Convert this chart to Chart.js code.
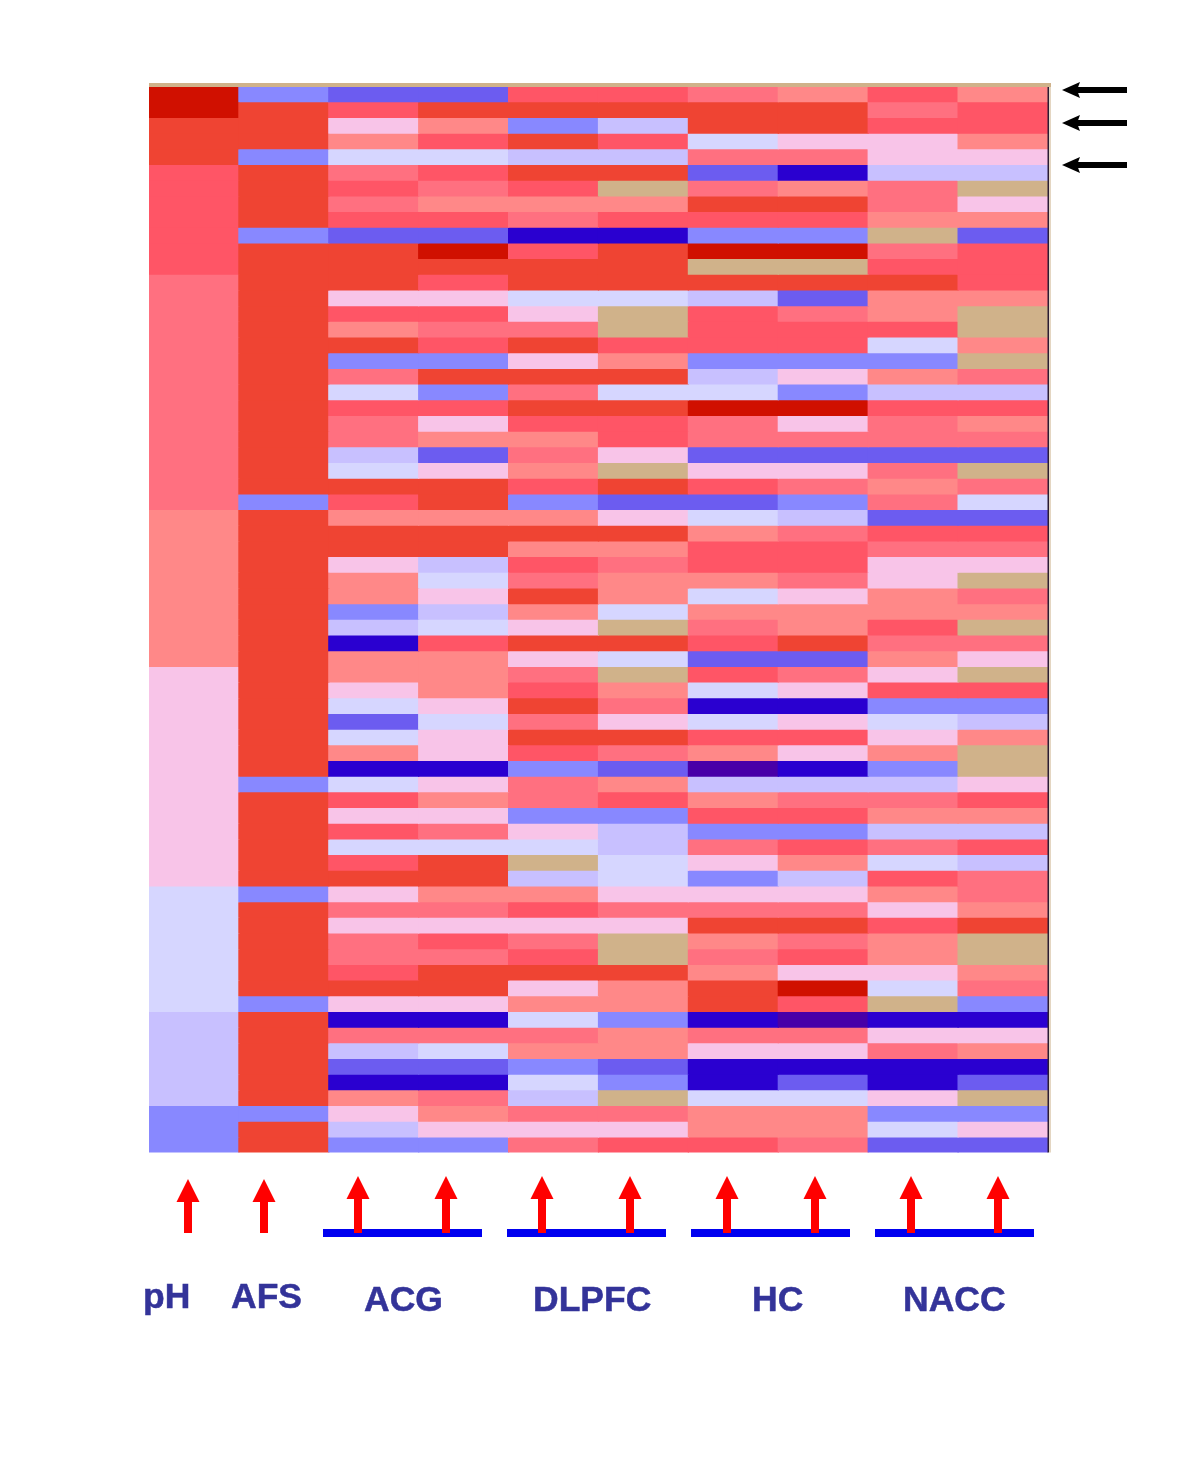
<!DOCTYPE html>
<html lang="en">
<head>
  <meta charset="UTF-8">
  <title>Heatmap pH AFS ACG DLPFC HC NACC</title>
  <script src="https://cdn.jsdelivr.net/npm/chart.js"></script>
  <style>
    body { margin: 0; padding: 0; background: #fff; }
    #wrap { width: 1200px; height: 1480px; }
  </style>
</head>
<body>
  <div id="wrap"><canvas id="heatmap" width="1200" height="1480"></canvas></div>

  <script>
    const columns = ['pH', 'AFS', 'ACG 1', 'ACG 2', 'DLPFC 1', 'DLPFC 2', 'HC 1', 'HC 2', 'NACC 1', 'NACC 2'];

    // one string per row, one letter per column (see levelColors)
    const rows = [
      'DBMMCCPSCS', 'DRCRRRRRPC', 'RRLSBURRCC', 'RRSCRCVLLS', 'RBVVUUPPLL',
      'CRPCRRMNUU', 'CRCPCXPSPX', 'CRPSSSRRPL', 'CRCCPCCCSS', 'CBMMNNBBXM',
      'CRRDCRDDPC', 'CRRRRRXXCC', 'PRRCRRRRRC', 'PRLLVVUMSS', 'PRCCLXCPSX',
      'PRSPPXCCCX', 'PRRCRCCCVS', 'PRBBLSBBBX', 'PRPRRRULSP', 'PRVBPVVBUU',
      'PRCCRRDDCC', 'PRPLCCPLPS', 'PRPSSCPPPP', 'PRUMPLMMMM', 'PRVLSXLLPX',
      'PRRRCRCPSP', 'PBCRBMMBPV', 'SRSSSLVUMM', 'SRRRRRSPCC', 'SRRRSSCCPP',
      'SRLUCPCCLL', 'SRSVPSSPLX', 'SRSLRSVLSP', 'SRBUSVSSSS', 'SRUVLXPSCX',
      'SRNCRRCRPP', 'SRSSLVMMSL', 'LRSSPXCPLX', 'LRLSCSVLCC', 'LRVLRPNNBB',
      'LRMVPLVLVU', 'LRVLRRCCLS', 'LRSLCPSLSX', 'LRNNBMONBX', 'LBVLPSUUUL',
      'LRCSPCSPPC', 'LRLLBBCCSS', 'LRCPLUBBUU', 'LRVVVUPCPC', 'LRCRXVLSVU',
      'LRRRUVBUCP', 'VBLSSLLLSP', 'VRPPCPPPLS', 'VRLLLLRRCR', 'VRPCPXSPSX',
      'VRPPCXPCSX', 'VRCRRRSLLS', 'VRRRLSRDVP', 'VBLLSSRCXB', 'URNNVBNONN',
      'URPPPSPPLL', 'URUVSSLLPS', 'URMMBMNNNN', 'URNNVBNMNM', 'URSPUXVVLX',
      'BBLSPPSSBB', 'BRULLLSSVL', 'BRBBPCCPMM'
    ];

    const levelColors = {
      D: '#d01000', R: '#ef4433', C: '#ff5566', P: '#ff7080', S: '#ff8888',
      L: '#f8c4e8', V: '#d6d6ff', U: '#c8c0ff', B: '#8888ff', M: '#6c5cf0',
      N: '#2a00d0', O: '#4800a8', X: '#d0b28a'
    };

    const groupLabels = [
      { text: 'pH', x: 143, y: 1308 },
      { text: 'AFS', x: 231, y: 1308 },
      { text: 'ACG', x: 364, y: 1311 },
      { text: 'DLPFC', x: 533, y: 1311 },
      { text: 'HC', x: 752, y: 1311 },
      { text: 'NACC', x: 903, y: 1311 }
    ];
    const groupBars = [323, 507, 691, 875];
    const redArrows = [
      [188, 1179], [264, 1179], [358, 1176], [446, 1176], [542, 1176],
      [630, 1176], [727, 1176], [815, 1176], [911, 1176], [998, 1176]
    ];
    const blackArrows = [90, 123, 165];

    // frame, arrows and labels around the heatmap
    const decorations = {
      id: 'decorations',
      afterDraw(chart) {
        const ctx = chart.ctx;
        const area = chart.chartArea;
        ctx.save();

        ctx.fillStyle = '#d0b28a';
        ctx.fillRect(area.left, 83, area.right - area.left + 3, 4);
        ctx.fillStyle = '#e4d6c2';
        ctx.fillRect(area.right + 1, 87, 2, area.bottom - 87);
        ctx.fillStyle = '#2c1c34';
        ctx.fillRect(area.right - 0.5, 87, 1.5, area.bottom - 87);

        ctx.fillStyle = '#0000f0';
        groupBars.forEach(x => ctx.fillRect(x, 1229, 159, 8));

        ctx.fillStyle = '#ff0000';
        redArrows.forEach(([x, tip]) => {
          ctx.fillRect(x - 4, tip + 22, 8, 1233 - tip - 22);
          ctx.beginPath();
          ctx.moveTo(x, tip);
          ctx.lineTo(x + 11.5, tip + 23);
          ctx.lineTo(x - 11.5, tip + 23);
          ctx.closePath();
          ctx.fill();
        });

        ctx.fillStyle = '#000';
        blackArrows.forEach(y => {
          ctx.fillRect(1076, y - 3, 51, 6);
          ctx.beginPath();
          ctx.moveTo(1062, y);
          ctx.lineTo(1080, y - 8);
          ctx.lineTo(1077, y);
          ctx.lineTo(1080, y + 8);
          ctx.closePath();
          ctx.fill();
        });

        ctx.fillStyle = '#333399';
        ctx.strokeStyle = '#333399';
        ctx.lineWidth = 0.5;
        ctx.font = 'bold 35.5px "Liberation Sans", Arial, sans-serif';
        ctx.textBaseline = 'alphabetic';
        groupLabels.forEach(l => {
          ctx.fillText(l.text, l.x, l.y);
          ctx.strokeText(l.text, l.x, l.y);
        });
        ctx.restore();
      }
    };

    new Chart(document.getElementById('heatmap'), {
      type: 'bar',
      data: {
        labels: columns,
        datasets: rows.map(row => ({
          data: columns.map(() => 1),
          backgroundColor: row.split('').map(code => levelColors[code]),
          borderWidth: 0,
          inflateAmount: 0.6,
          barPercentage: 1,
          categoryPercentage: 1
        }))
      },
      options: {
        responsive: false,
        animation: false,
        layout: { padding: { left: 149, top: 86, right: 152, bottom: 327.5 } },
        plugins: { legend: { display: false }, tooltip: { enabled: false } },
        scales: {
          x: { stacked: true, display: false },
          y: { stacked: true, display: false, reverse: true, min: 0, max: rows.length }
        }
      },
      plugins: [decorations]
    });
  </script>
</body>
</html>
